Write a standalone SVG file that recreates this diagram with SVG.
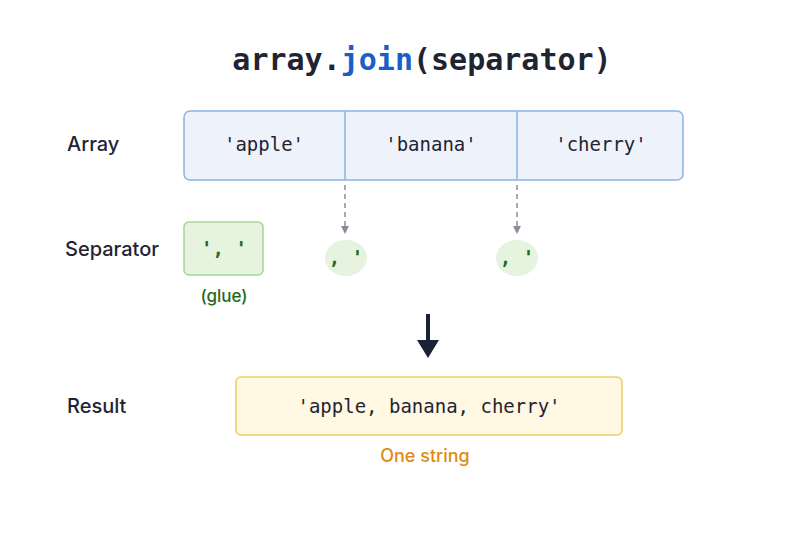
<svg xmlns="http://www.w3.org/2000/svg" width="800" height="533" viewBox="0 0 800 533">
<style>
.mono{font-family:"DejaVu Sans Mono","Liberation Mono",monospace;fill:#1f2433}
.lab{font-family:Inter,"Liberation Sans",sans-serif;font-size:20px;font-weight:500;fill:#1f2433}
.cell{fill:#eef3fb;stroke:#8fb2e6;stroke-width:1.5}
.sep{fill:#e6f4df}
.g{fill:#1e6b1e}
</style>
<defs>
<marker id="ah" markerWidth="8" markerHeight="8" refX="4" refY="4" orient="auto" markerUnits="userSpaceOnUse"><path d="M0,0L8,4L0,8z" fill="#8a8d99"/></marker>
</defs>
<rect width="800" height="533" fill="#fff"/>
<text x="422" y="70" text-anchor="middle" class="mono" font-size="30" font-weight="bold">array.<tspan fill="#1a5fc7">join</tspan>(separator)</text>
<text x="67" y="151" class="lab">Array</text>
<text x="65" y="256" class="lab">Separator</text>
<text x="67" y="413" class="lab">Result</text>
<g id="array">
<rect x="184" y="111" width="499" height="69" rx="6" class="cell"/>
<line x1="345" y1="111" x2="345" y2="180" stroke="#8fb2e6" stroke-width="1.5"/>
<line x1="517" y1="111" x2="517" y2="180" stroke="#8fb2e6" stroke-width="1.5"/>
<text x="264" y="151" text-anchor="middle" class="mono" font-size="19">'apple'</text>
<text x="431" y="151" text-anchor="middle" class="mono" font-size="19">'banana'</text>
<text x="601" y="151" text-anchor="middle" class="mono" font-size="19">'cherry'</text>
</g>
<g id="glue">
<rect x="184" y="222" width="79" height="53" rx="5" fill="#e6f4df" stroke="#a5d49a" stroke-width="1.5"/>
<text x="224" y="255" text-anchor="middle" class="mono g" font-size="19" font-weight="bold">', '</text>
<text x="224" y="302" text-anchor="middle" font-family="Inter,'Liberation Sans',sans-serif" font-size="17" font-weight="500" class="g">(glue)</text>
</g>
<g id="sep1"><ellipse cx="346" cy="258" rx="21" ry="18" class="sep"/><text x="346" y="264" text-anchor="middle" class="mono g" font-size="19" font-weight="bold">, '</text></g>
<g id="sep2"><ellipse cx="517" cy="258" rx="21" ry="18" class="sep"/><text x="517" y="264" text-anchor="middle" class="mono g" font-size="19" font-weight="bold">, '</text></g>
<g id="connectors">
<line x1="345" y1="185" x2="345" y2="230" stroke="#8a8d99" stroke-width="1.5" stroke-dasharray="5,4" marker-end="url(#ah)"/>
<line x1="517" y1="185" x2="517" y2="230" stroke="#8a8d99" stroke-width="1.5" stroke-dasharray="5,4" marker-end="url(#ah)"/>
<line x1="428" y1="314" x2="428" y2="342" stroke="#1a2235" stroke-width="4"/>
<path d="M417,340L439,340L428,358z" fill="#1a2235"/>
</g>
<g id="result">
<rect x="236" y="377" width="386" height="58" rx="5" fill="#fff8e3" stroke="#f0cd6a" stroke-width="1.5"/>
<text x="429" y="413" text-anchor="middle" class="mono" font-size="19">'apple, banana, cherry'</text>
<text x="425" y="462" text-anchor="middle" font-family="Inter,'Liberation Sans',sans-serif" font-size="18" font-weight="500" fill="#e08a12">One string</text>
</g>
</svg>
